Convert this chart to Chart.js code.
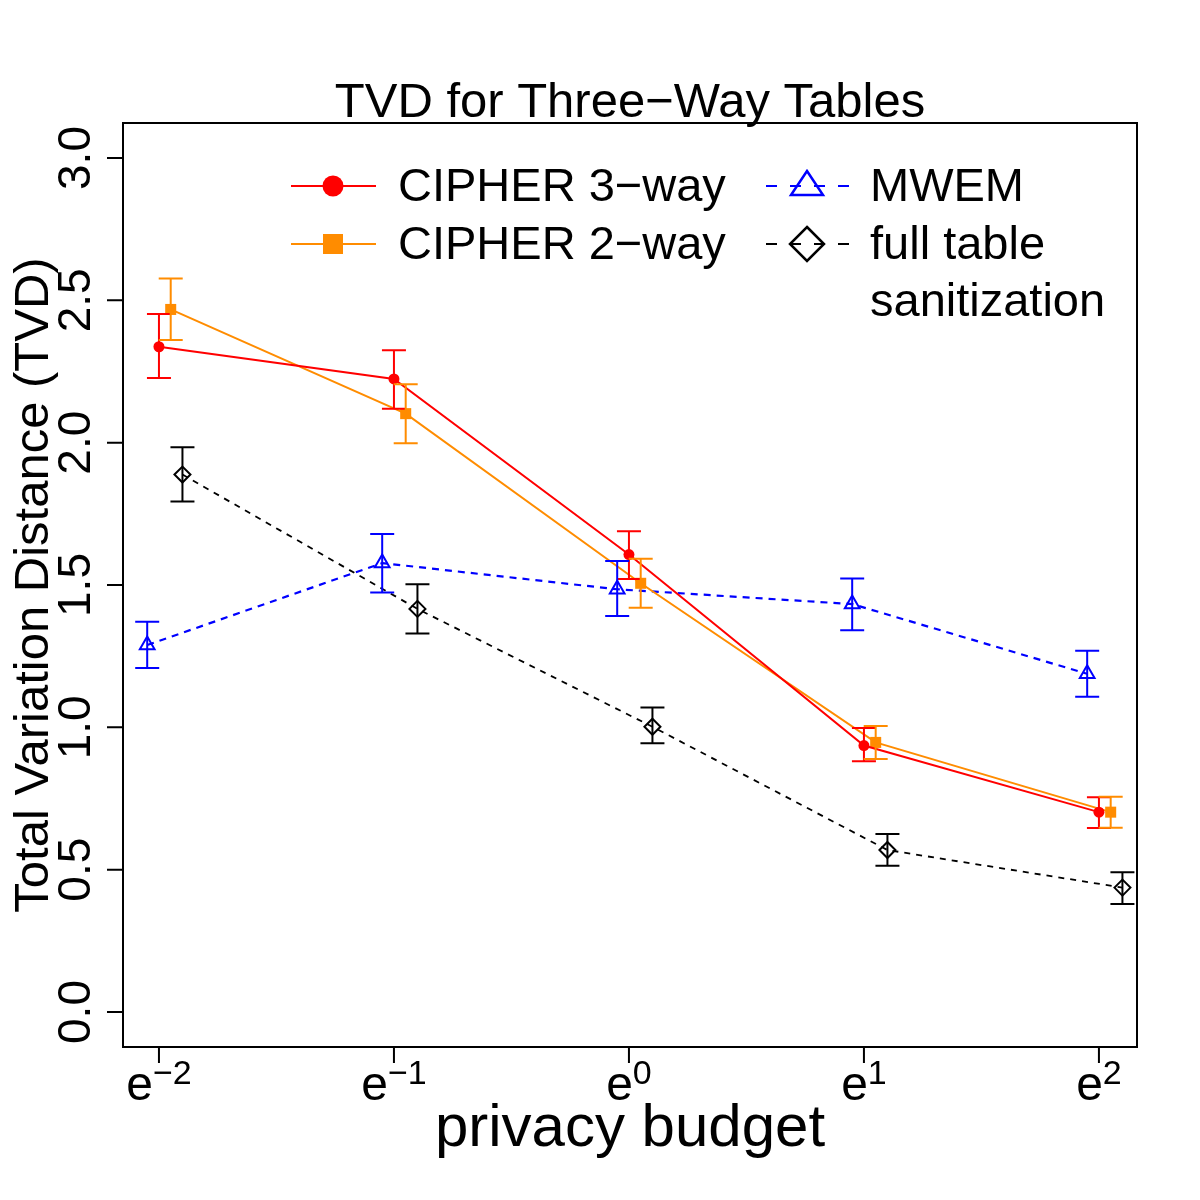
<!DOCTYPE html>
<html>
<head>
<meta charset="utf-8">
<script src="https://cdn.jsdelivr.net/npm/chart.js@4.4.1/dist/chart.umd.min.js"></script>
<style>
  html, body { margin: 0; padding: 0; background: #fff; }
</style>
</head>
<body>
<canvas id="tvdChart" width="1200" height="1200"></canvas>
<script>
// log(privacy budget) positions and axis ticks
var budgetLog = [-2, -1, 0, 1, 2];
var yTicks = [0, 0.5, 1, 1.5, 2, 2.5, 3];

// TVD means with lower / upper error bar ends
var cipher3   = [2.337, 2.224, 1.607, 0.936, 0.702];
var cipher3Lo = [2.227, 2.119, 1.521, 0.881, 0.646];
var cipher3Hi = [2.452, 2.325, 1.689, 0.998, 0.754];

var cipher2   = [2.468, 2.102, 1.506, 0.947, 0.702];
var cipher2Lo = [2.361, 1.998, 1.420, 0.889, 0.647];
var cipher2Hi = [2.577, 2.205, 1.592, 1.005, 0.756];

var mwem   = [1.289, 1.577, 1.485, 1.433, 1.188];
var mwemLo = [1.208, 1.474, 1.391, 1.341, 1.107];
var mwemHi = [1.371, 1.679, 1.584, 1.523, 1.269];

var fullTable   = [1.888, 1.416, 1.002, 0.569, 0.437];
var fullTableLo = [1.793, 1.330, 0.944, 0.514, 0.379];
var fullTableHi = [1.984, 1.503, 1.070, 0.625, 0.491];

var FONT = '"Liberation Sans", Arial, Helvetica, sans-serif';

function points(vals, jitter) {
  return budgetLog.map(function (b, i) { return { x: b + jitter, y: vals[i] }; });
}

// error bars, drawn through the scales
var errorBars = {
  id: 'errorBars',
  afterDatasetsDraw: function (chart) {
    var ctx = chart.ctx, xs = chart.scales.x, ys = chart.scales.y;
    chart.data.datasets.forEach(function (ds) {
      ctx.save();
      ctx.strokeStyle = ds.borderColor;
      ctx.lineWidth = 2;
      ctx.setLineDash([]);
      ds.data.forEach(function (p, i) {
        var px = xs.getPixelForValue(p.x);
        var top = ys.getPixelForValue(ds.errHi[i]);
        var bot = ys.getPixelForValue(ds.errLo[i]);
        ctx.beginPath();
        ctx.moveTo(px, top); ctx.lineTo(px, bot);
        ctx.moveTo(px - 12, top); ctx.lineTo(px + 12, top);
        ctx.moveTo(px - 12, bot); ctx.lineTo(px + 12, bot);
        ctx.stroke();
      });
      ctx.restore();
    });
  }
};

// R-like box, axes, titles and legend
var rDecor = {
  id: 'rDecor',
  afterDraw: function (chart) {
    var ctx = chart.ctx, a = chart.chartArea;
    var xs = chart.scales.x, ys = chart.scales.y;
    ctx.save();
    ctx.strokeStyle = '#000';
    ctx.fillStyle = '#000';
    ctx.lineWidth = 2;
    ctx.setLineDash([]);
    ctx.strokeRect(a.left, a.top, a.right - a.left, a.bottom - a.top);

    // y axis
    ctx.beginPath();
    yTicks.forEach(function (t) {
      var py = ys.getPixelForValue(t);
      ctx.moveTo(a.left - 16, py); ctx.lineTo(a.left, py);
    });
    ctx.stroke();
    ctx.font = '46px ' + FONT;
    ctx.textAlign = 'center';
    ctx.textBaseline = 'alphabetic';
    yTicks.forEach(function (t) {
      var py = ys.getPixelForValue(t);
      ctx.save();
      ctx.translate(90, py);
      ctx.rotate(-Math.PI / 2);
      ctx.fillText(t.toFixed(1), 0, 0);
      ctx.restore();
    });

    // x axis
    ctx.beginPath();
    budgetLog.forEach(function (t) {
      var px = xs.getPixelForValue(t);
      ctx.moveTo(px, a.bottom); ctx.lineTo(px, a.bottom + 16);
    });
    ctx.stroke();
    budgetLog.forEach(function (t) {
      var px = xs.getPixelForValue(t);
      var sup = (t < 0 ? '\u2212' : '') + Math.abs(t);
      ctx.font = '48px ' + FONT;
      var wb = ctx.measureText('e').width;
      ctx.font = '34px ' + FONT;
      var ws = ctx.measureText(sup).width;
      var x0 = px - (wb + ws) / 2;
      ctx.textAlign = 'left';
      ctx.font = '48px ' + FONT;
      ctx.fillText('e', x0, 1100);
      ctx.font = '34px ' + FONT;
      ctx.fillText(sup, x0 + wb, 1084);
    });

    // titles
    ctx.textAlign = 'center';
    ctx.font = '49px ' + FONT;
    ctx.fillText('TVD for Three\u2212Way Tables', (a.left + a.right) / 2, 117);
    ctx.font = '60px ' + FONT;
    ctx.fillText('privacy budget', (a.left + a.right) / 2, 1146);
    ctx.save();
    ctx.translate(48, (a.top + a.bottom) / 2);
    ctx.rotate(-Math.PI / 2);
    ctx.font = '49px ' + FONT;
    ctx.fillText('Total Variation Distance (TVD)', 0, 0);
    ctx.restore();

    // legend
    var ds = chart.data.datasets;
    var rows = [
      { d: ds[0], cx: 333, y: 186, x1: 291, x2: 376 },
      { d: ds[1], cx: 333, y: 244, x1: 291, x2: 376 },
      { d: ds[2], cx: 807, y: 186, x1: 766, x2: 851 },
      { d: ds[3], cx: 807, y: 244, x1: 766, x2: 851 }
    ];
    rows.forEach(function (r, k) {
      ctx.strokeStyle = r.d.borderColor;
      ctx.fillStyle = r.d.borderColor;
      ctx.lineWidth = 2;
      ctx.setLineDash(k < 2 ? [] : [11, 13]);
      ctx.beginPath();
      ctx.moveTo(r.x1, r.y); ctx.lineTo(r.x2, r.y);
      ctx.stroke();
      ctx.setLineDash([]);
      ctx.lineWidth = 2.5;
      ctx.beginPath();
      if (k === 0) {
        ctx.arc(r.cx, r.y, 10.5, 0, Math.PI * 2); ctx.fill();
      } else if (k === 1) {
        ctx.fillRect(r.cx - 10, r.y - 10, 20, 20);
      } else if (k === 2) {
        ctx.moveTo(r.cx, r.y - 15); ctx.lineTo(r.cx + 16, r.y + 9);
        ctx.lineTo(r.cx - 16, r.y + 9); ctx.closePath(); ctx.stroke();
      } else {
        ctx.moveTo(r.cx, r.y - 17); ctx.lineTo(r.cx + 17, r.y);
        ctx.lineTo(r.cx, r.y + 17); ctx.lineTo(r.cx - 17, r.y);
        ctx.closePath(); ctx.stroke();
      }
    });
    ctx.fillStyle = '#000';
    ctx.textAlign = 'left';
    ctx.textBaseline = 'middle';
    ctx.font = '47px ' + FONT;
    ctx.fillText(ds[0].label, 398, 188);
    ctx.fillText(ds[1].label, 398, 246);
    ctx.fillText(ds[2].label, 870, 188);
    ctx.fillText('full table', 870, 246);
    ctx.fillText('sanitization', 870, 303);
    ctx.restore();
  }
};

new Chart(document.getElementById('tvdChart').getContext('2d'), {
  type: 'line',
  data: {
    datasets: [
      {
        label: 'CIPHER 3\u2212way',
        data: points(cipher3, 0),
        errLo: cipher3Lo, errHi: cipher3Hi,
        borderColor: '#FF0000', backgroundColor: '#FF0000',
        borderWidth: 2, pointStyle: 'circle', pointRadius: 5.5, pointBorderWidth: 0
      },
      {
        label: 'CIPHER 2\u2212way',
        data: points(cipher2, 0.05),
        errLo: cipher2Lo, errHi: cipher2Hi,
        borderColor: '#FF8C00', backgroundColor: '#FF8C00',
        borderWidth: 2, pointStyle: 'rect', pointRadius: 7.8, pointBorderWidth: 0
      },
      {
        label: 'MWEM',
        data: points(mwem, -0.05),
        errLo: mwemLo, errHi: mwemHi,
        borderColor: '#0000FF', backgroundColor: 'rgba(0,0,0,0)',
        borderWidth: 2.2, borderDash: [7, 6],
        pointStyle: 'triangle', pointRadius: 8.5, pointBorderWidth: 2
      },
      {
        label: 'full table sanitization',
        data: points(fullTable, 0.1),
        errLo: fullTableLo, errHi: fullTableHi,
        borderColor: '#000000', backgroundColor: 'rgba(0,0,0,0)',
        borderWidth: 1.8, borderDash: [6, 6],
        pointStyle: 'rectRot', pointRadius: 8, pointBorderWidth: 2
      }
    ]
  },
  options: {
    responsive: false,
    devicePixelRatio: 1,
    animation: false,
    layout: { padding: { left: 123, top: 123, right: 63, bottom: 153 } },
    plugins: { legend: { display: false }, tooltip: { enabled: false } },
    scales: {
      x: { type: 'linear', min: -2.153, max: 2.162, display: false },
      y: { type: 'linear', min: -0.123, max: 3.123, display: false }
    }
  },
  plugins: [errorBars, rDecor]
});
</script>
</body>
</html>
